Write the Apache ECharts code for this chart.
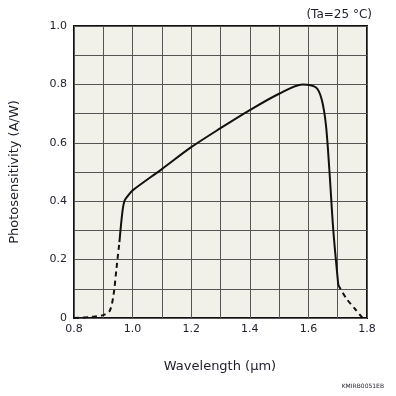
<!DOCTYPE html>
<html><head><meta charset="utf-8">
<script src="https://cdn.jsdelivr.net/npm/echarts@6/dist/echarts.min.js"></script>
<style>html,body{margin:0;padding:0;background:#fff}#c{width:396px;height:396px}</style>
</head><body><div id="c"></div>
<script>
const xLabels = ['0.8','1.0','1.2','1.4','1.6','1.8'];
const yLabels = ['0','0.2','0.4','0.6','0.8','1.0'];
const dashLeft = [[0.8,0.0],[0.86,0.004],[0.9,0.01],[0.922,0.025],[0.935,0.08],[0.945,0.17],[0.955,0.26]];
const solidMid = [[0.955,0.26],[0.966,0.37],[0.973,0.403],[0.985,0.42],[1.0,0.437],[1.1,0.51],[1.2,0.585],[1.3,0.65],[1.4,0.712],[1.5,0.768],[1.58,0.8],[1.625,0.79],[1.645,0.75],[1.66,0.66],[1.672,0.5],[1.685,0.3],[1.702,0.113]];
const dashRight = [[1.702,0.113],[1.73,0.066],[1.76,0.03],[1.785,0.0]];

const chart = echarts.init(document.getElementById('c'));
const lab = {color:'#1e1e2e', fontFamily:'DejaVu Sans', fontSize:11};
chart.setOption({
  animation:false,
  grid:{left:74, top:26, right:29, bottom:78, show:true, backgroundColor:'#F2F1E9', borderColor:'#111', borderWidth:2},
  xAxis:{type:'value', min:0.8, max:1.8, interval:0.1,
    axisLine:{show:false}, axisTick:{show:false},
    splitLine:{show:true, lineStyle:{color:'#555', width:1}},
    axisLabel:Object.assign({margin:6, formatter:function(v){const s=(Math.round(v*10)/10).toFixed(1); return xLabels.indexOf(s)>=0?s:'';}}, lab)},
  yAxis:{type:'value', min:0, max:1, interval:0.1,
    axisLine:{show:false}, axisTick:{show:false},
    splitLine:{show:true, lineStyle:{color:'#555', width:1}},
    axisLabel:Object.assign({margin:7, formatter:function(v){const r=Math.round(v*10)/10; const s = r===0?'0':r.toFixed(1); return yLabels.indexOf(s)>=0?s:'';}}, lab)},
  series:[
    {type:'line', data:dashLeft, smooth:0.3, symbol:'none', lineStyle:{color:'#111', width:2, type:[5,4]}},
    {type:'line', data:solidMid, smooth:0.3, symbol:'none', lineStyle:{color:'#111', width:2}},
    {type:'line', data:dashRight, smooth:0.3, symbol:'none', lineStyle:{color:'#111', width:2, type:[5,4]}}
  ],
  graphic:[
    {type:'text', x:220, y:367, style:{text:'Wavelength (μm)', font:'13px "DejaVu Sans"', fill:'#1e1e2e', align:'center', verticalAlign:'middle'}},
    {type:'text', x:15, y:172, rotation:Math.PI/2, style:{text:'Photosensitivity (A/W)', font:'13px "DejaVu Sans"', fill:'#1e1e2e', align:'center', verticalAlign:'middle'}},
    {type:'text', x:372, y:15, style:{text:'(Ta=25 °C)', font:'12px "DejaVu Sans"', fill:'#1e1e2e', align:'right', verticalAlign:'middle'}},
    {type:'text', x:384, y:386, style:{text:'KMIRB0051EB', font:'6px "DejaVu Sans"', fill:'#1e1e2e', align:'right', verticalAlign:'middle'}}
  ]
});
</script></body></html>
